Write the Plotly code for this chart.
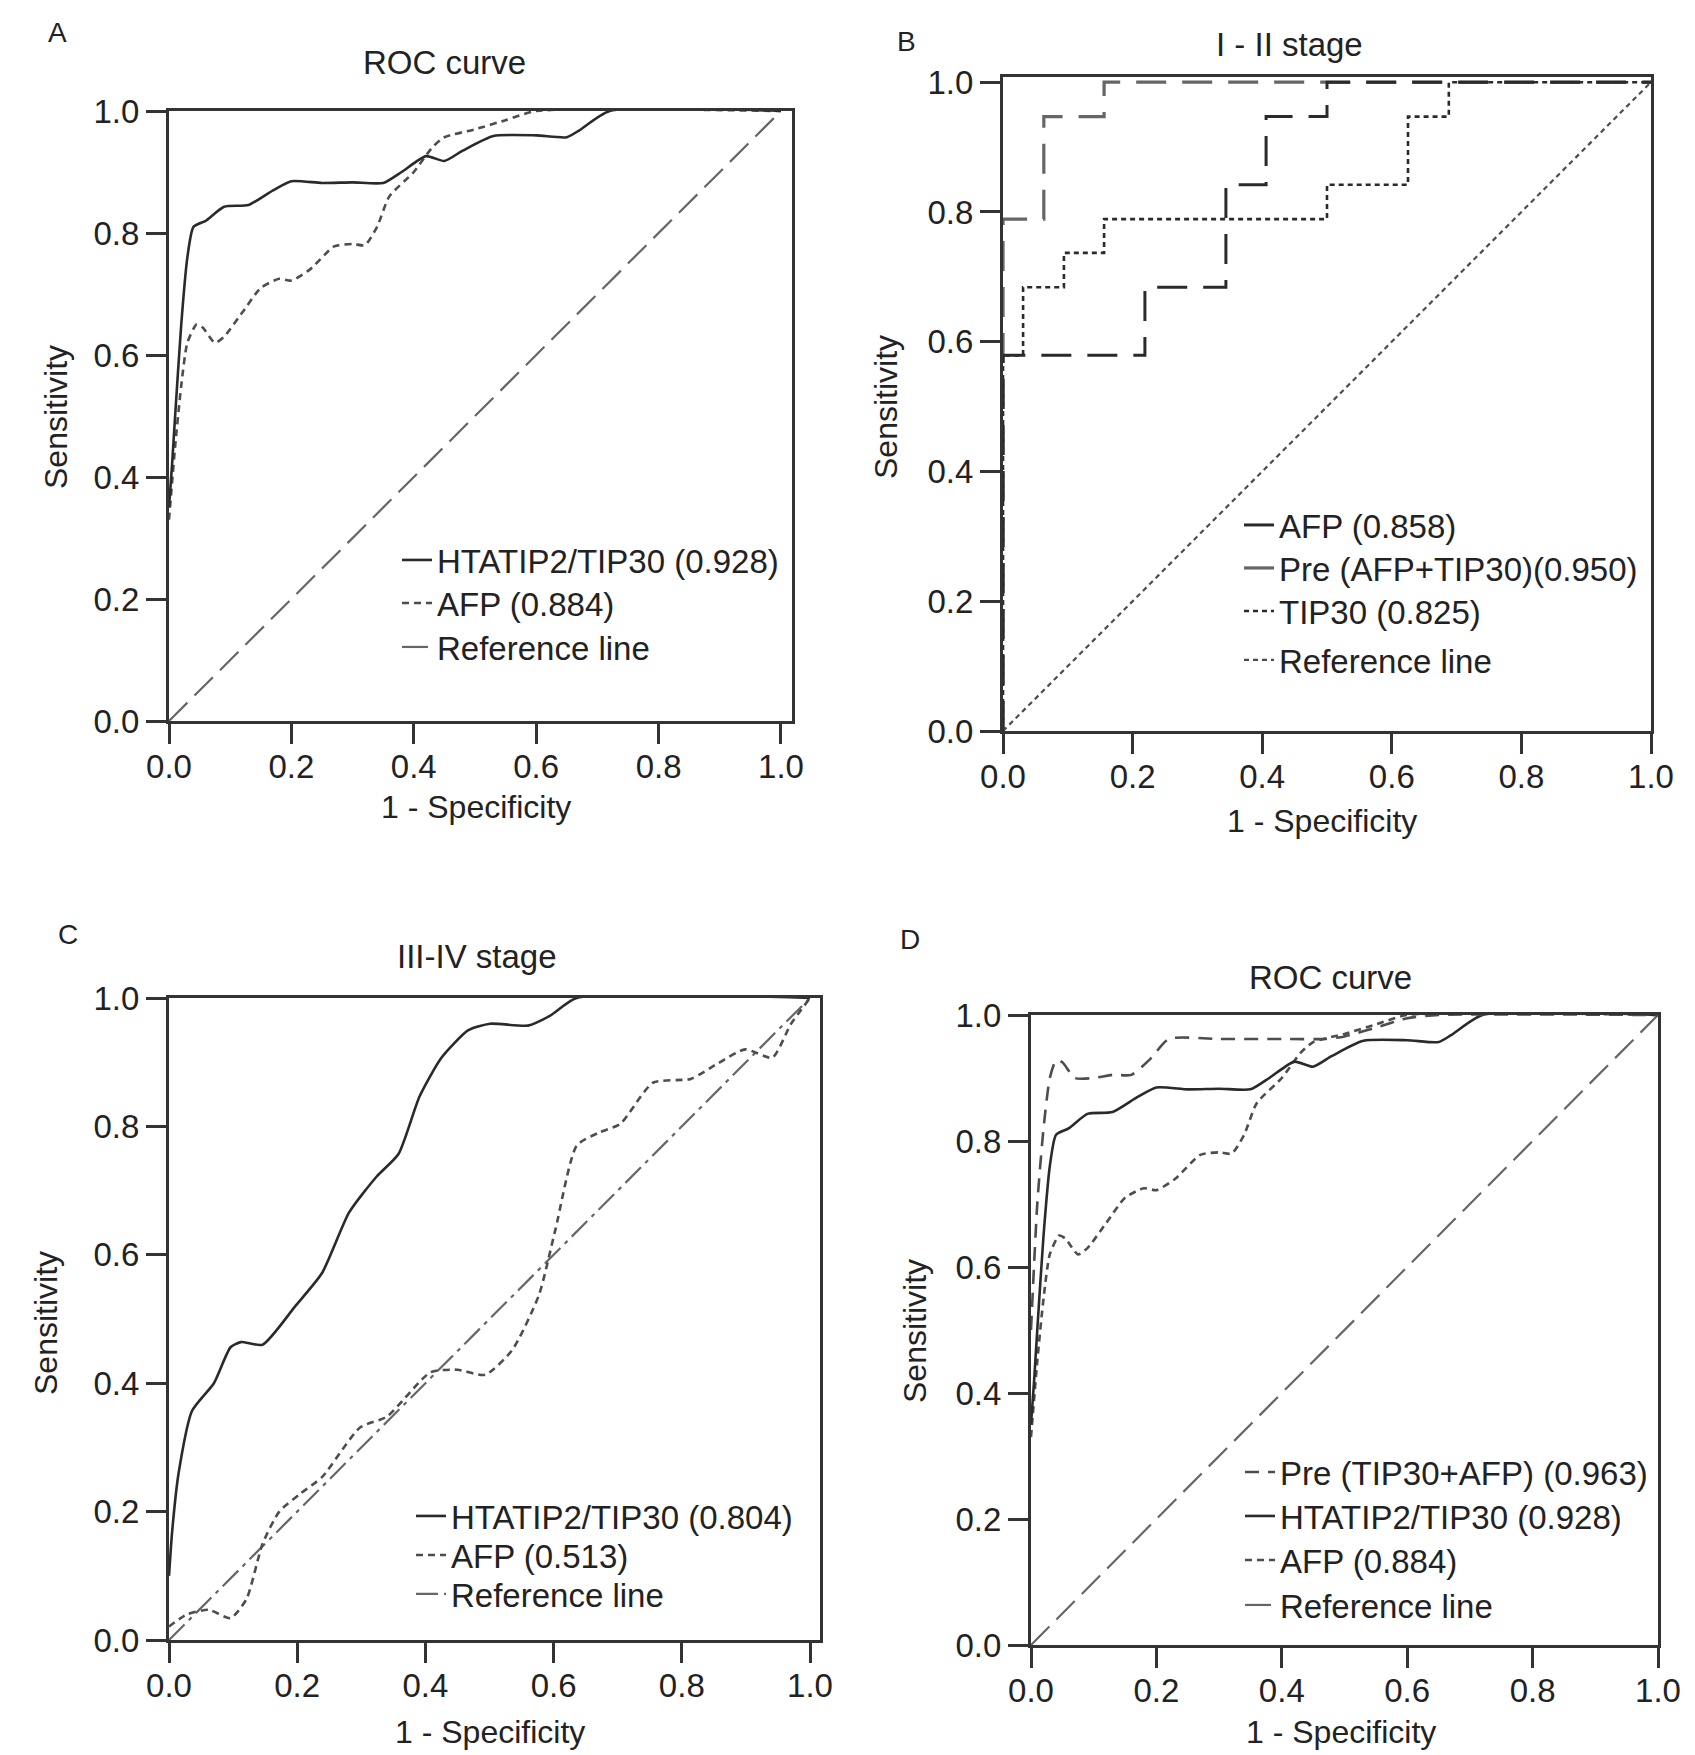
import plotly.graph_objects as go

W, H = 1695, 1755

# ---- panel A / D : whole cohort ----
tip30_x = [0.0, 0.005, 0.01, 0.02, 0.03, 0.04, 0.06, 0.09, 0.13, 0.17, 0.2, 0.25, 0.3, 0.35, 0.38,
           0.42, 0.45, 0.48, 0.53, 0.6, 0.65, 0.67, 0.72, 1.0]
tip30_y = [0.35, 0.42, 0.5, 0.65, 0.76, 0.81, 0.82, 0.843, 0.846, 0.87, 0.885, 0.882, 0.883, 0.882, 0.9,
           0.926, 0.918, 0.935, 0.959, 0.96, 0.957, 0.968, 1.0, 1.0]
afp_x = [0.0, 0.01, 0.02, 0.03, 0.045, 0.055, 0.075, 0.09, 0.12, 0.15, 0.18, 0.2, 0.23, 0.27, 0.3, 0.32,
         0.34, 0.36, 0.4, 0.43, 0.45, 0.5, 0.55, 0.6, 1.0]
afp_y = [0.33, 0.45, 0.55, 0.62, 0.65, 0.645, 0.62, 0.63, 0.67, 0.71, 0.725, 0.722, 0.74, 0.778, 0.782, 0.78,
         0.81, 0.86, 0.9, 0.94, 0.957, 0.97, 0.985, 1.0, 1.0]
pre_x = [0.0, 0.01, 0.02, 0.03, 0.04, 0.05, 0.07, 0.1, 0.13, 0.16, 0.19, 0.22, 0.3, 0.4, 0.47, 0.5, 0.55,
         0.6, 0.65, 1.0]
pre_y = [0.5, 0.7, 0.82, 0.9, 0.928, 0.925, 0.9, 0.9, 0.905, 0.905, 0.93, 0.962, 0.962, 0.962, 0.962, 0.966,
         0.98, 0.995, 1.0, 1.0]

# ---- panel B : I-II stage (step ROC) ----
b_afp_x = [0.0, 0.0, 0.219, 0.344, 0.406, 0.5, 1.0]
b_afp_y = [0.0, 0.579, 0.684, 0.842, 0.947, 1.0, 1.0]
b_pre_x = [0.0, 0.0, 0.063, 0.156, 1.0]
b_pre_y = [0.0, 0.789, 0.947, 1.0, 1.0]
b_tip_x = [0.0, 0.0, 0.031, 0.094, 0.156, 0.5, 0.625, 0.688, 1.0]
b_tip_y = [0.0, 0.579, 0.684, 0.737, 0.789, 0.842, 0.947, 1.0, 1.0]

# ---- panel C : III-IV stage ----
c_tip_x = [0.0, 0.005, 0.015, 0.036, 0.07, 0.096, 0.112, 0.146, 0.197, 0.239, 0.281, 0.324, 0.358, 0.391,
           0.425, 0.467, 0.501, 0.56, 0.594, 0.636, 1.0]
c_tip_y = [0.1, 0.17, 0.26, 0.357, 0.4, 0.456, 0.464, 0.46, 0.52, 0.572, 0.666, 0.722, 0.757, 0.847,
           0.907, 0.95, 0.96, 0.957, 0.972, 1.0, 1.0]
c_afp_x = [0.0, 0.028, 0.062, 0.096, 0.121, 0.146, 0.172, 0.205, 0.239, 0.298, 0.34, 0.408, 0.45, 0.493,
           0.535, 0.577, 0.603, 0.636, 0.67, 0.704, 0.755, 0.814, 0.856, 0.899, 0.941, 0.97, 1.0]
c_afp_y = [0.021, 0.04, 0.047, 0.034, 0.064, 0.15, 0.2, 0.228, 0.254, 0.331, 0.348, 0.417, 0.421, 0.413,
           0.451, 0.537, 0.64, 0.77, 0.79, 0.804, 0.868, 0.874, 0.898, 0.92, 0.907, 0.959, 1.0]

diag = [0.0, 1.0]
ticks = [0.0, 0.2, 0.4, 0.6, 0.8, 1.0]

FONT = "Liberation Sans, Arial, sans-serif"
FS = 33
DARK = "#2a2a2a"
MID = "#4d4d4d"
GREY = "#666666"


def px_x(v):
    return v / W


def px_y(v):
    return 1 - v / H


# plot frames in pixels: (left, right, top, bottom) and axis maxima
frames = {
    "": (161, 784, 103, 713),
    "2": (995, 1643, 69, 723),
    "3": (161, 812, 990, 1632),
    "4": (1023, 1650, 1007, 1637),
}
xmax = {"": 1.018, "2": 1.0, "3": 1.0156, "4": 1.0}
ymax = {"": 1.0, "2": 1.008, "3": 1.0, "4": 1.0}

fig = go.Figure()
legends = {}


def add(x, y, name, axis, text_x, row_y, color, dash, width=2.6, shape="spline"):
    leg = "legend" if not legends else "legend%d" % (len(legends) + 1)
    legends[leg] = (text_x - 44, row_y)
    fig.add_trace(go.Scatter(
        x=x, y=y, name=name, mode="lines",
        line=dict(color=color, dash=dash, width=width, shape=shape, smoothing=0.6),
        xaxis="x" + axis, yaxis="y" + axis, legend=leg,
    ))


# A
add(diag, diag, "Reference line", "", 433, 639, GREY, "26px,10px", 2.2, "linear")
add(afp_x, afp_y, "AFP (0.884)", "", 433, 595, MID, "7px,5px")
add(tip30_x, tip30_y, "HTATIP2/TIP30 (0.928)", "", 433, 552, DARK, "solid")

# B
add(diag, diag, "Reference line", "2", 1275, 652, MID, "5px,4px", 2.2, "linear")
add(b_tip_x, b_tip_y, "TIP30 (0.825)", "2", 1275, 603, DARK, "5px,4px", 2.6, "hv")
add(b_pre_x, b_pre_y, "Pre (AFP+TIP30)(0.950)", "2", 1275, 560, GREY, "30px,16px", 3.2, "hv")
add(b_afp_x, b_afp_y, "AFP (0.858)", "2", 1275, 517, DARK, "30px,16px", 3.0, "hv")

# C
add(diag, diag, "Reference line", "3", 447, 1586, GREY, "22px,6px,4px,6px", 2.2, "linear")
add(c_afp_x, c_afp_y, "AFP (0.513)", "3", 447, 1547, MID, "7px,5px")
add(c_tip_x, c_tip_y, "HTATIP2/TIP30 (0.804)", "3", 447, 1508, DARK, "solid")

# D
add(diag, diag, "Reference line", "4", 1276, 1597, GREY, "26px,10px", 2.2, "linear")
add(afp_x, afp_y, "AFP (0.884)", "4", 1276, 1552, MID, "7px,5px")
add(tip30_x, tip30_y, "HTATIP2/TIP30 (0.928)", "4", 1276, 1508, DARK, "solid")
add(pre_x, pre_y, "Pre (TIP30+AFP) (0.963)", "4", 1276, 1464, MID, "14px,9px")

layout = dict(
    width=W, height=H, margin=dict(l=0, r=0, t=0, b=0, autoexpand=False),
    paper_bgcolor="white", plot_bgcolor="white",
    font=dict(family=FONT, size=FS, color="#222"),
    showlegend=True,
)

for k, (l, r, t, b) in frames.items():
    axis_common = dict(
        showgrid=False, zeroline=False, showline=True, mirror=True, automargin=False,
        linecolor="#333", linewidth=3, ticks="outside", ticklen=20, tickwidth=2.5,
        tickcolor="#333", tickvals=ticks, tickformat=".1f",
        tickfont=dict(family=FONT, size=FS, color="#222"), fixedrange=True,
    )
    layout["xaxis" + k] = dict(axis_common, domain=[px_x(l), px_x(r)], range=[0, xmax[k]],
                               anchor="y" + k, ticklabelstandoff=-6)
    layout["yaxis" + k] = dict(axis_common, domain=[px_y(b), px_y(t)], range=[0, ymax[k]],
                               anchor="x" + k)

for leg, (lx, ly) in legends.items():
    layout[leg] = dict(
        x=px_x(lx), y=px_y(ly), xanchor="left", yanchor="middle",
        bgcolor="rgba(0,0,0,0)", borderwidth=0,
        font=dict(family=FONT, size=FS, color="#222"),
    )

fig.update_layout(**layout)

# panel letters, titles and axis titles
labels = [
    ("A", 49, 25, 0, 28), ("ROC curve", 436, 54, 0, 33), ("1 - Specificity", 468, 799, 0, 32),
    ("Sensitivity", 48, 409, -90, 32),
    ("B", 899, 33, 0, 28), ("I - II stage", 1281, 37, 0, 33), ("1 - Specificity", 1314, 813, 0, 32),
    ("Sensitivity", 878, 399, -90, 32),
    ("C", 60, 926, 0, 28), ("III-IV stage", 469, 948, 0, 33), ("1 - Specificity", 482, 1724, 0, 32),
    ("Sensitivity", 38, 1315, -90, 32),
    ("D", 902, 931, 0, 28), ("ROC curve", 1322, 970, 0, 33), ("1 - Specificity", 1333, 1724, 0, 32),
    ("Sensitivity", 907, 1323, -90, 32),
]
for text, x, y, ang, size in labels:
    fig.add_annotation(text=text, x=px_x(x), y=px_y(y), xref="paper", yref="paper",
                       xanchor="center", yanchor="middle", showarrow=False, textangle=ang,
                       font=dict(family=FONT, size=size, color="#222"))

fig.write_html("out.html")
